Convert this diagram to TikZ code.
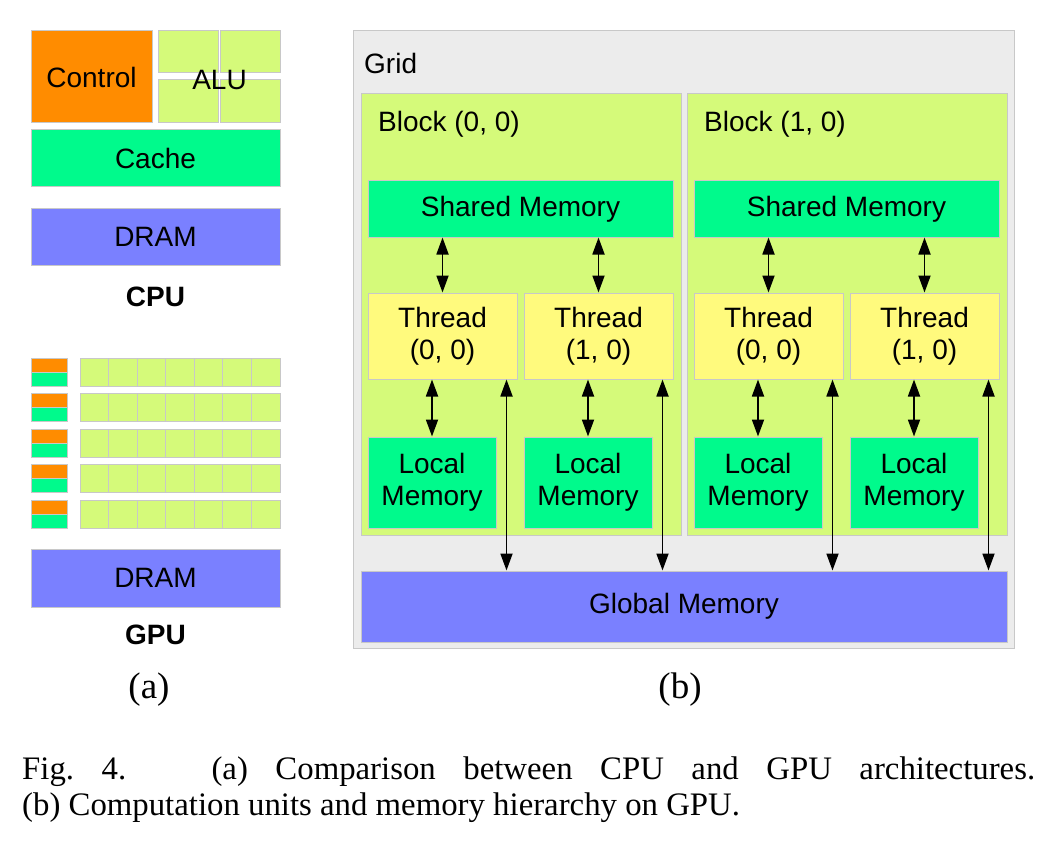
\documentclass[tikz,border=0pt]{standalone}
\usepackage{fontspec}
\setmainfont{Liberation Serif}
\setsansfont{Liberation Sans}
\usepackage{tikz}
\usetikzlibrary{arrows.meta}
\definecolor{ctrlorange}{RGB}{255,140,0}
\definecolor{alugreen}{RGB}{213,250,122}
\definecolor{cachegreen}{RGB}{0,250,140}
\definecolor{drampurple}{RGB}{122,128,255}
\definecolor{threadyellow}{RGB}{255,250,125}
\definecolor{gridgray}{RGB}{236,236,236}
\definecolor{edgegray}{RGB}{200,200,200}
\tikzstyle{unit}=[draw=edgegray,%
                  line width  = 1pt,%
                  rectangle,%
                  inner sep   = 0pt,%
                  align       = center,%
                  font        = \sffamily\fontsize{28}{32}\selectfont]
\tikzstyle{ctrl}=[unit, fill=ctrlorange]
\tikzstyle{alu}=[unit, fill=alugreen]
\tikzstyle{cachebox}=[unit, fill=cachegreen]
\tikzstyle{drambox}=[unit, fill=drampurple]
\tikzstyle{threadbox}=[unit, fill=threadyellow]
\tikzstyle{gridbox}=[unit, fill=gridgray]
\tikzstyle{headtext}=[inner sep=0pt, font=\sffamily\fontsize{28}{32}\selectfont]
\tikzstyle{subfig}=[inner sep=0pt, font=\fontsize{37}{40}\selectfont]
\tikzstyle{link}=[{Triangle[length=17pt,width=12pt]}-{Triangle[length=17pt,width=12pt]}, line width=1.8pt]

\begin{document}
\begin{tikzpicture}[x=1pt,y=-1pt]
            \useasboundingbox (0,0) rectangle (1062,853);
            % (a) CPU
            \node[ctrl, minimum width=121, minimum height=92] (control) at (91.5,77) {Control};
            \node[alu, minimum width=60, minimum height=42] (alu1) at (188,52) {};
            \node[alu, minimum width=60, minimum height=42] (alu2) at (250,52) {};
            \node[alu, minimum width=60, minimum height=43] (alu3) at (188,101.5) {};
            \node[alu, minimum width=60, minimum height=43] (alu4) at (250,101.5) {};
            \node[headtext] (alutext) at (219.5,80) {ALU};
            \node[cachebox, minimum width=249, minimum height=57] (cache) at (155.5,158.5) {Cache};
            \node[drambox, minimum width=249, minimum height=57] (cpudram) at (155.5,236.5) {DRAM};
            \node[headtext, anchor=base] (cpu) at (155.5,306) {\bfseries CPU};
            % (a) GPU
            \foreach \r in {0,...,4} {
              \node[ctrl, minimum width=36, minimum height=14] (gc\r) at (49,365+35.6*\r) {};
              \node[cachebox, minimum width=36, minimum height=14] (gk\r) at (49,379+35.6*\r) {};
              \foreach \c in {0,...,6}
                \node[alu, minimum width=28.57, minimum height=28] (ga\r\c) at (94.3+28.57*\c,372+35.6*\r) {};
            }
            \node[drambox, minimum width=249, minimum height=58] (gpudram) at (155.5,578) {DRAM};
            \node[headtext, anchor=base] (gpu) at (155.5,644) {\bfseries GPU};
            \node[subfig, anchor=base] (suba) at (149,698) {(a)};
            % (b) grid
            \node[gridbox, minimum width=661, minimum height=617] (grid) at (683.5,339.5) {};
            \node[headtext, anchor=base west] (gridtext) at (364,74) {Grid};
            \foreach \b/\s in {0/0,1/326} {
              \node[alu, minimum width=320, minimum height=441] (blk\b) at (521+\s,314.5) {};
              \node[headtext, anchor=base west] (blktext\b) at (378+\s,132) {Block (\b, 0)};
              \node[cachebox, minimum width=305, minimum height=56] (sh\b) at (520.5+\s,209) {Shared Memory};
              \node[threadbox, minimum width=149, minimum height=86] (ta\b) at (442.5+\s,336) {Thread\\(0, 0)};
              \node[threadbox, minimum width=149, minimum height=86] (tb\b) at (598.5+\s,336) {Thread\\(1, 0)};
              \node[cachebox, minimum width=128, minimum height=91] (la\b) at (432+\s,482.5) {Local\\Memory};
              \node[cachebox, minimum width=128, minimum height=91] (lb\b) at (588+\s,482.5) {Local\\Memory};
            }
            \node[drambox, minimum width=646, minimum height=71] (global) at (684,606.5) {Global Memory};
            \foreach \b in {0,1} {
              \path (ta\b.south east) ++(-11,0) coordinate (ua\b);
              \path (tb\b.south east) ++(-11,0) coordinate (ub\b);
              \draw [link] (sh\b.south -| ta\b) -- (ta\b.north);
              \draw [link] (sh\b.south -| tb\b) -- (tb\b.north);
              \draw [link] (ta\b.south -| la\b) -- (la\b.north);
              \draw [link] (tb\b.south -| lb\b) -- (lb\b.north);
              \draw [link] (ua\b) -- (ua\b |- global.north);
              \draw [link] (ub\b) -- (ub\b |- global.north);
            }
            \node[subfig, anchor=base] (subb) at (680,698) {(b)};
            % caption
            \node[anchor=north west, inner sep=0pt, text width=1013pt, align=justify,
                  font=\fontsize{32.8}{36}\selectfont] (caption) at (22,757)
                  {\noindent Fig.\ 4.\hspace{2.6em}(a) Comparison between CPU and GPU architectures.\linebreak
                   (b) Computation units and memory hierarchy on GPU.};
  \end{tikzpicture}
\end{document}
